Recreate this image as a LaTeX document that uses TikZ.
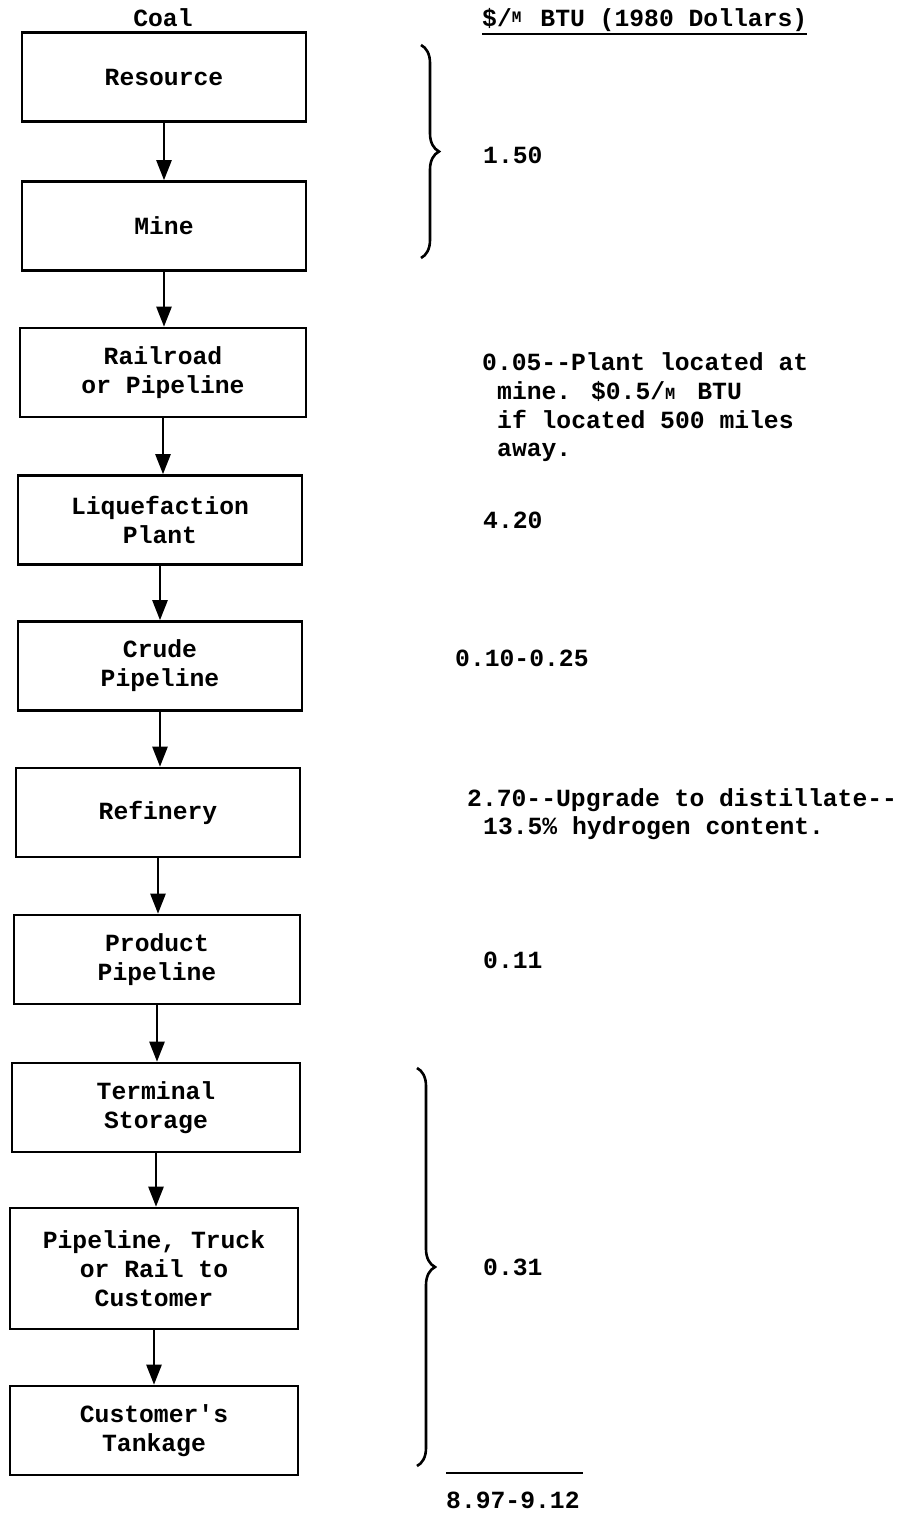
\documentclass[tikz,border=0pt]{standalone}
\usepackage{fontspec}
\newfontfamily\tw{Liberation Mono Bold}
\usetikzlibrary{arrows.meta,decorations.pathreplacing}
\begin{document}
\begin{tikzpicture}[x=1pt,y=-1pt,
  txt/.style={font=\tw\fontsize{24.7}{29}\selectfont},
  box/.style={draw, line width=2.6pt, align=center, inner sep=0pt, txt, minimum width=284pt, minimum height=89pt},
  flow/.style={-{Triangle[width=15pt,length=20pt]}, line width=2.5pt},
  note/.style={anchor=base west, inner sep=0pt, txt},
  brc/.style={decorate, decoration={brace, amplitude=18pt}, line width=2.6pt}]
\useasboundingbox (0,0) rectangle (915,1515);
\fill[white] (0,0) rectangle (915,1515);
% boxes
\node[box] (res) at (164,77) {Resource};
\node[box] (mine) at (164,226) {Mine};
\node[box, minimum width=286pt] (rail) at (163,372.5) {Railroad\\or Pipeline};
\node[box] (liq) at (160,520) {Liquefaction\\Plant};
\node[box] (crude) at (160,666) {Crude\\Pipeline};
\node[box] (ref) at (158,812.5) {Refinery};
\node[box, minimum width=286pt] (prod) at (157,959.5) {Product\\Pipeline};
\node[box, minimum width=288pt] (term) at (156,1107.5) {Terminal\\Storage};
\node[box, minimum width=288pt, minimum height=121pt] (ptr) at (154,1268.5) {Pipeline, Truck\\or Rail to\\Customer};
\node[box, minimum width=288pt] (cust) at (154,1430.5) {Customer's\\Tankage};
% arrows
\foreach \a/\b in {res/mine,mine/rail,rail/liq,liq/crude,crude/ref,ref/prod,prod/term,term/ptr,ptr/cust}
  \draw[flow] (\a.south) -- (\a.south |- \b.north);
% headings
\node[txt, anchor=base, inner sep=0pt] (coal) at (163,27) {Coal};
\node[note] (hdr) at (482,27) {\$/\raisebox{4pt}{\fontsize{16}{16}\selectfont M}\hspace{19pt}BTU (1980 Dollars)};
\draw[line width=2pt] (482,34) coordinate (u1) -- (807,34) coordinate (u2);
% braces
\coordinate (b1t) at (421,45);
\coordinate (b1b) at (421,258);
\draw[brc] (b1t) -- (b1b);
\coordinate (b2t) at (417,1068);
\coordinate (b2b) at (417,1466);
\draw[brc] (b2t) -- (b2b);
% notes
\node[note] (n1) at (483,163) {1.50};
\node[note] (n2a) at (482,370) {0.05-{}-Plant located at};
\node[note] (n2b) at (497,399) {mine. \$0.5/\raisebox{0pt}{\fontsize{17}{17}\selectfont M}\hspace{22pt}BTU};
\node[note] (n2c) at (497,428) {if located 500 miles};
\node[note] (n2d) at (497,456) {away.};
\node[note] (n3) at (483,528) {4.20};
\node[note] (n4) at (455,666) {0.10-0.25};
\node[note] (n5a) at (467,806) {2.70-{}-Upgrade to distillate-{}-};
\node[note] (n5b) at (483,834) {13.5\% hydrogen content.};
\node[note] (n6) at (483,968) {0.11};
\node[note] (n7) at (483,1275) {0.31};
\draw[line width=2.4pt] (446,1473) coordinate (s1) -- (583,1473) coordinate (s2);
\node[note] (tot) at (446,1508) {8.97-9.12};
\end{tikzpicture}
\end{document}
